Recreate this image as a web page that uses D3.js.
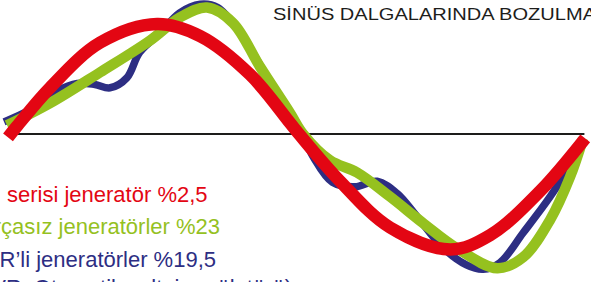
<!DOCTYPE html>
<html>
<head>
<meta charset="utf-8">
<script src="https://cdn.jsdelivr.net/npm/d3@7/dist/d3.min.js"></script>
<style>
html,body{margin:0;padding:0;background:#fff;overflow:hidden;}
svg{display:block;}
text{font-family:"Liberation Sans",Arial,Helvetica,sans-serif;}
</style>
</head>
<body>
<svg id="chart" width="591" height="282"></svg>
<script>
// Phase angle (degrees) and normalised amplitude
const redDeg   = [-2.5, 3.1, 23.8, 55.2, 91, 118, 149.3, 174.4, 180, 205.8, 237.1, 274.8, 299.9, 331.2, 359.5];
const redVal   = [-0.03, 0.07, 0.42, 0.83, 1.0, 0.89, 0.54, 0.10, 0.0, -0.43, -0.85, -1.05, -0.92, -0.52, -0.04];

const greenDeg = [-3.1, 23.8, 55.2, 86.6, 105.4, 122.3, 138.6, 155.6, 174.4, 182.6, 199.5, 216.4, 237.1, 257.8, 279.2, 304.3, 320.6, 337.5, 350, 358.2];
const greenVal = [0.08, 0.28, 0.56, 0.85, 1.06, 1.15, 1.01, 0.61, 0.19, 0.0, -0.24, -0.35, -0.57, -0.81, -1.04, -1.22, -1.12, -0.78, -0.39, -0.04];

const blueDeg  = [-5, 11.3, 28, 41, 52, 61.5, 72, 80, 93, 105, 118, 129, 143, 160, 176, 182, 189, 201, 215, 229, 241.5, 254, 270, 285, 295.5, 306, 320.5, 337.5, 352, 358];
const blueVal  = [0.11, 0.22, 0.39, 0.46, 0.45, 0.42, 0.51, 0.74, 0.92, 1.10, 1.18, 1.15, 0.92, 0.52, 0.15, 0.0, -0.21, -0.44, -0.48, -0.43, -0.54, -0.75, -1.03, -1.19, -1.23, -1.17, -0.90, -0.57, -0.24, -0.05];

const axisExtent = [2, 359];

const title = "SİNÜS DALGALARINDA BOZULMA";
const legendLabels = [
  "serisi jeneratör %2,5",
  "Fırçasız jeneratörler %23",
  "AVR’li jeneratörler %19,5",
  "(AVR: Otomatik voltaj regülatörü)"
];

const colors = {red:"#E30613", green:"#95C11F", blue:"#2D2E83", ink:"#1D1D1B"};

const svg = d3.select("#chart");
const x = d3.scaleLinear().domain([0, 360]).range([12, 586]);
const y = d3.scaleLinear().domain([-1, 1]).range([244, 24]);

const line = d3.line()
  .x(d => x(d[0])).y(d => y(d[1]))
  .curve(d3.curveCatmullRom.alpha(0.5));

// axis line
svg.append("line")
  .attr("x1", x(axisExtent[0])).attr("x2", x(axisExtent[1]))
  .attr("y1", y(0)).attr("y2", y(0))
  .attr("stroke", colors.ink).attr("stroke-width", 2.2);

const series = [
  {deg: blueDeg,  val: blueVal,  color: colors.blue,  w: 7.5},
  {deg: greenDeg, val: greenVal, color: colors.green, w: 10.5},
  {deg: redDeg,   val: redVal,   color: colors.red,   w: 12.5}
];

series.forEach(s => {
  const pts = s.deg.map((d, i) => [d, s.val[i]]);
  svg.append("path")
    .attr("d", line(pts))
    .attr("fill", "none")
    .attr("stroke", s.color)
    .attr("stroke-width", s.w)
    .attr("stroke-linecap", "butt")
    .attr("stroke-linejoin", "round");
});

// title
svg.append("text")
  .attr("x", 273).attr("y", 20)
  .attr("font-size", 16.5)
  .attr("fill", colors.ink)
  .attr("textLength", 323)
  .attr("lengthAdjust", "spacingAndGlyphs")
  .text(title);

// legend
const lg = [
  {t: legendLabels[0], c: colors.red,   x: 7,   y: 202, anchor: "start"},
  {t: legendLabels[1], c: colors.green, x: 220, y: 234, anchor: "end"},
  {t: legendLabels[2], c: colors.blue,  x: 216, y: 267, anchor: "end"},
  {t: legendLabels[3], c: colors.blue,  x: 292, y: 295, anchor: "end"}
];
svg.selectAll("text.lg").data(lg).enter().append("text")
  .attr("class", "lg")
  .attr("x", d => d.x).attr("y", d => d.y)
  .attr("text-anchor", d => d.anchor)
  .attr("font-size", 22)
  .attr("fill", d => d.c)
  .text(d => d.t);
</script>
</body>
</html>
